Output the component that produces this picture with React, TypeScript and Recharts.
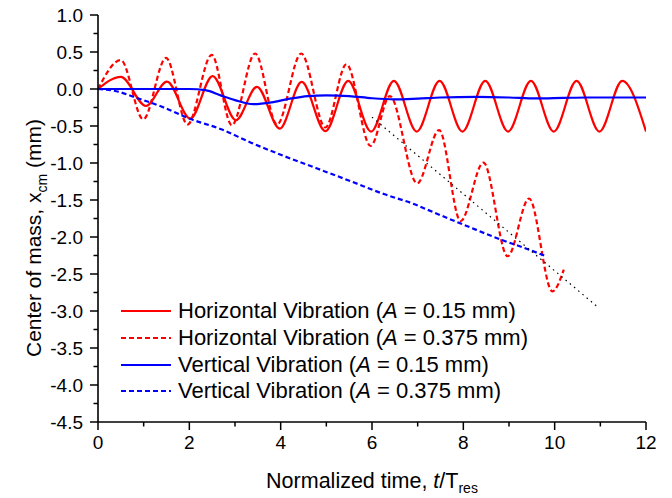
import { LineChart, Line, XAxis, YAxis, Legend, Label } from "recharts";

const FONT = "'Liberation Sans', Arial, Helvetica, sans-serif";
const RED = "#ff0000";
const BLUE = "#0000ff";

// t / T_res vs x_cm (mm)
const H015 = [
  { t: 0, v: 0 },
  { t: 0.5, v: 0.165 },
  { t: 1.05, v: -0.23 },
  { t: 1.51, v: 0.1 },
  { t: 2.02, v: -0.4 },
  { t: 2.51, v: 0.175 },
  { t: 3.02, v: -0.42 },
  { t: 3.48, v: 0.03 },
  { t: 3.98, v: -0.535 },
  { t: 4.46, v: 0.095 },
  { t: 4.98, v: -0.57 },
  { t: 5.48, v: 0.11 },
  { t: 5.98, v: -0.575 },
  { t: 6.48, v: 0.11 },
  { t: 6.98, v: -0.575 },
  { t: 7.48, v: 0.11 },
  { t: 7.98, v: -0.575 },
  { t: 8.48, v: 0.11 },
  { t: 8.98, v: -0.575 },
  { t: 9.48, v: 0.11 },
  { t: 9.98, v: -0.575 },
  { t: 10.48, v: 0.11 },
  { t: 10.98, v: -0.575 },
  { t: 11.48, v: 0.11 },
  { t: 12, v: -0.575 },
];

const H0375 = [
  { t: 0, v: 0 },
  { t: 0.5, v: 0.39 },
  { t: 0.99, v: -0.41 },
  { t: 1.49, v: 0.42 },
  { t: 1.96, v: -0.48 },
  { t: 2.49, v: 0.46 },
  { t: 2.93, v: -0.49 },
  { t: 3.44, v: 0.48 },
  { t: 3.92, v: -0.48 },
  { t: 4.45, v: 0.48 },
  { t: 4.98, v: -0.52 },
  { t: 5.44, v: 0.335 },
  { t: 5.97, v: -0.77 },
  { t: 6.39, v: -0.095 },
  { t: 6.99, v: -1.275 },
  { t: 7.47, v: -0.555 },
  { t: 7.94, v: -1.785 },
  { t: 8.44, v: -0.995 },
  { t: 8.97, v: -2.26 },
  { t: 9.44, v: -1.48 },
  { t: 9.95, v: -2.735 },
  { t: 10.2, v: -2.44 },
];

const V015 = [
  { t: 0, v: 0 },
  { t: 1, v: 0 },
  { t: 2, v: 0 },
  { t: 2.35, v: -0.015 },
  { t: 2.7, v: -0.09 },
  { t: 3.0, v: -0.15 },
  { t: 3.4, v: -0.205 },
  { t: 3.8, v: -0.18 },
  { t: 4.2, v: -0.13 },
  { t: 4.6, v: -0.095 },
  { t: 5.0, v: -0.085 },
  { t: 5.5, v: -0.095 },
  { t: 6.0, v: -0.125 },
  { t: 6.5, v: -0.14 },
  { t: 7.0, v: -0.13 },
  { t: 7.5, v: -0.115 },
  { t: 8.3, v: -0.107 },
  { t: 9.0, v: -0.115 },
  { t: 9.6, v: -0.128 },
  { t: 10.2, v: -0.12 },
  { t: 10.7, v: -0.115 },
  { t: 11.4, v: -0.115 },
  { t: 12, v: -0.115 },
];

const V0375 = [
  { t: 0, v: 0 },
  { t: 0.4, v: -0.03 },
  { t: 0.8, v: -0.11 },
  { t: 1.4, v: -0.24 },
  { t: 2.0, v: -0.4 },
  { t: 2.7, v: -0.545 },
  { t: 3.35, v: -0.725 },
  { t: 4.07, v: -0.905 },
  { t: 4.8, v: -1.075 },
  { t: 5.53, v: -1.245 },
  { t: 6.26, v: -1.42 },
  { t: 6.9, v: -1.55 },
  { t: 7.36, v: -1.67 },
  { t: 8.09, v: -1.855 },
  { t: 8.82, v: -2.035 },
  { t: 9.3, v: -2.14 },
  { t: 9.77, v: -2.25 },
];

const TREND = [
  { t: 6.0, v: -0.38 },
  { t: 10.95, v: -2.95 },
];

const X_MAJOR = [0, 2, 4, 6, 8, 10, 12];
const X_MINOR = [1, 3, 5, 7, 9, 11];
const Y_MAJOR = [1.0, 0.5, 0.0, -0.5, -1.0, -1.5, -2.0, -2.5, -3.0, -3.5, -4.0, -4.5];
const Y_MINOR = [0.75, 0.25, -0.25, -0.75, -1.25, -1.75, -2.25, -2.75, -3.25, -3.75, -4.25];

const SERIES = [
  { key: "h015", label: "Horizontal Vibration", amp: "0.15", data: H015, color: RED, dash: undefined },
  { key: "h0375", label: "Horizontal Vibration", amp: "0.375", data: H0375, color: RED, dash: "5 3" },
  { key: "v015", label: "Vertical Vibration", amp: "0.15", data: V015, color: BLUE, dash: undefined },
  { key: "v0375", label: "Vertical Vibration", amp: "0.375", data: V0375, color: BLUE, dash: "5 3" },
];

function YTick(props: any) {
  const { x, y, payload } = props;
  const major = Y_MAJOR.includes(payload.value);
  return (
    <g>
      <line x1={x} x2={x - (major ? 8 : 4.5)} y1={y} y2={y} stroke="#000" strokeWidth={1.5} />
      {major && (
        <text x={x - 15} y={y} dy="0.35em" textAnchor="end" fontSize={19} fontFamily={FONT} fill="#000">
          {payload.value.toFixed(1)}
        </text>
      )}
    </g>
  );
}

function XTick(props: any) {
  const { x, y, payload } = props;
  const major = X_MAJOR.includes(payload.value);
  return (
    <g>
      <line x1={x} x2={x} y1={y} y2={y + (major ? 8 : 4.5)} stroke="#000" strokeWidth={1.5} />
      {major && (
        <text x={x} y={y + 20} dy="0.35em" textAnchor="middle" fontSize={19} fontFamily={FONT} fill="#000">
          {payload.value}
        </text>
      )}
    </g>
  );
}

function LegendBox() {
  return (
    <div style={{ fontFamily: FONT, fontSize: 22, color: "#000" }}>
      {SERIES.map((s) => (
        <div key={s.key} style={{ display: "flex", alignItems: "center", height: 26.7, whiteSpace: "nowrap" }}>
          <svg width={57} height={6} style={{ flex: "none" }}>
            <line x1={0} x2={50} y1={3} y2={3} stroke={s.color} strokeWidth={2} strokeDasharray={s.dash} />
          </svg>
          <span>
            {s.label} (<i>A</i> = {s.amp} mm)
          </span>
        </div>
      ))}
    </div>
  );
}

export default function App() {
  return (
    <div style={{ position: "absolute", left: 0, top: 0, width: 672, height: 498, background: "#fff" }}>
      <LineChart width={672} height={498} margin={{ top: 15, right: 26, bottom: 0, left: 0 }}>
        <XAxis
          type="number"
          dataKey="t"
          domain={[0, 12]}
          ticks={[...X_MAJOR, ...X_MINOR]}
          interval={0}
          allowDataOverflow
          height={76}
          tickSize={0}
          tickMargin={0}
          tickLine={false}
          tick={<XTick />}
          axisLine={{ stroke: "#000", strokeWidth: 1.6 }}
        >
          <Label
            content={(p: any) => {
              const vb = p.viewBox || { x: 98, width: 548 };
              const cx = vb.x + vb.width / 2;
              return (
                <text x={cx} y={488} textAnchor="middle" fontSize={21.5} fontFamily={FONT} fill="#000">
                  Normalized time, <tspan fontStyle="italic">t</tspan>/T
                  <tspan fontSize={14} dy={5}>res</tspan>
                </text>
              );
            }}
          />
        </XAxis>
        <YAxis
          type="number"
          dataKey="v"
          domain={[-4.5, 1.0]}
          ticks={[...Y_MAJOR, ...Y_MINOR]}
          interval={0}
          allowDataOverflow
          width={98}
          tickSize={0}
          tickMargin={0}
          tickLine={false}
          tick={<YTick />}
          axisLine={{ stroke: "#000", strokeWidth: 1.6 }}
        >
          <Label
            content={() => (
              <text
                x={41}
                y={238}
                transform="rotate(-90, 41, 238)"
                textAnchor="middle"
                fontSize={21}
                fontFamily={FONT}
                fill="#000"
              >
                Center of mass, x<tspan fontSize={14} dy={6}>cm</tspan>
                <tspan dy={-6}> (mm)</tspan>
              </text>
            )}
          />
        </YAxis>
        <Legend
          layout="vertical"
          align="center"
          verticalAlign="middle"
          content={() => <LegendBox />}
          wrapperStyle={{ left: 121, top: 298, width: "auto", height: "auto" }}
        />
        {SERIES.map((s) => (
          <Line
            key={s.key}
            data={s.data}
            dataKey="v"
            type="monotone"
            stroke={s.color}
            strokeWidth={2.2}
            strokeDasharray={s.dash}
            dot={false}
            activeDot={false}
            isAnimationActive={false}
            legendType="none"
          />
        ))}
        <Line
          data={TREND}
          dataKey="v"
          type="linear"
          stroke="#000"
          strokeWidth={1.2}
          strokeDasharray="1.5 4"
          dot={false}
          activeDot={false}
          isAnimationActive={false}
          legendType="none"
        />
      </LineChart>
    </div>
  );
}
